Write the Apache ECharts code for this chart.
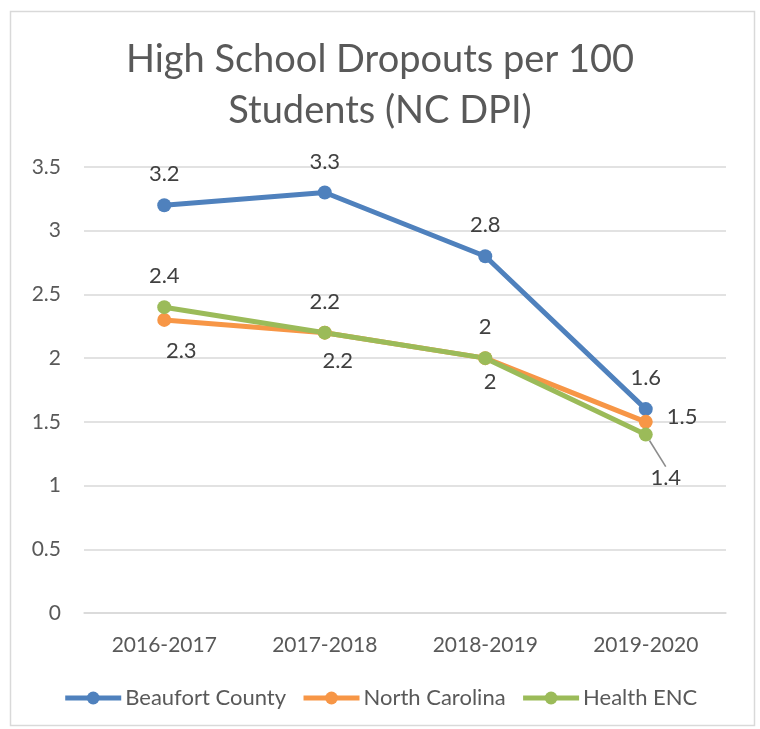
<!DOCTYPE html>
<html>
<head>
<meta charset="utf-8">
<script src="https://cdn.jsdelivr.net/npm/echarts@6/dist/echarts.min.js"></script>
<style>
  html, body { margin: 0; padding: 0; background: #fff; }
  #chart { width: 760px; height: 729px; }
</style>
</head>
<body>
<div id="chart"></div>
<script>
var chart = echarts.init(document.getElementById('chart'));

// school years on the x axis
const years = ['2016-2017', '2017-2018', '2018-2019', '2019-2020'];

// dropouts per 100 students
const beaufort = [3.2, 3.3, 2.8, 1.6];
const northCarolina = [2.3, 2.2, 2.0, 1.5];
const healthEnc = [2.4, 2.2, 2.0, 1.4];

// label placement per point (Excel put them around by hand)
const ncLabelPos = [
  { position: 'bottom', offset: [17, 0] },
  { position: 'bottom', offset: [13, -3] },
  { position: 'bottom', offset: [5, -7] },
  { position: 'right', offset: [1, -5] }
];
const encLabelPos = [
  { position: 'top', offset: [15, 12] },
  { position: 'top', offset: [14, 10] },
  { position: 'top', offset: [8, 1] },
  { position: 'bottom', offset: [0, 0] }
];

const font = 'Lato, "Open Sans", sans-serif';
const labelStyle = { fontSize: 22, color: '#404040', fontFamily: font };

function withLabels(values, pos) {
  return values.map(function (v, i) {
    return { value: v, label: pos[i] };
  });
}

function lineSeries(name, color, data, label) {
  return {
    name: name,
    type: 'line',
    data: data,
    symbol: 'circle',
    symbolSize: 14,
    lineStyle: { width: 5, color: color },
    itemStyle: { color: color },
    label: Object.assign({ show: true, distance: 13 }, labelStyle, label || {}),
    emphasis: { disabled: true },
    animation: false
  };
}

var green = lineSeries('Health ENC', '#9BBB59', withLabels(healthEnc, encLabelPos));
green.data[3].labelLine = { show: true, lineStyle: { color: '#8c8c8c', width: 1.6 } };
green.labelLine = { show: false };
green.labelLayout = function (params) {
  if (params.dataIndex === 3) {
    return { dx: 20, dy: 12 };
  }
};

var option = {
  backgroundColor: '#fff',
  graphic: [{
    type: 'rect',
    shape: { x: 10.5, y: 11.5, width: 744, height: 714 },
    style: { fill: 'none', stroke: '#d9d9d9', lineWidth: 1.5 },
    silent: true
  }],
  title: {
    text: 'High School Dropouts per 100\nStudents (NC DPI)',
    left: 'center',
    top: 29,
    textStyle: {
      fontFamily: font,
      fontSize: 38,
      fontWeight: 'normal',
      color: '#595959',
      lineHeight: 51
    }
  },
  legend: {
    bottom: 15,
    left: 'center',
    itemWidth: 56,
    itemHeight: 16,
    itemGap: 15,
    lineStyle: { width: 5 },
    textStyle: { fontFamily: font, fontSize: 22, color: '#595959', padding: [0, 0, 0, -1] },
    data: ['Beaufort County', 'North Carolina', 'Health ENC']
  },
  grid: {
    left: 84,
    right: 34,
    top: 167,
    bottom: 116,
    containLabel: false
  },
  xAxis: {
    type: 'category',
    data: years,
    boundaryGap: true,
    axisLine: { show: true, lineStyle: { color: '#d9d9d9', width: 1.5 } },
    axisTick: { show: false },
    axisLabel: { fontFamily: font, fontSize: 21, color: '#595959', margin: 22 }
  },
  yAxis: {
    type: 'value',
    min: 0,
    max: 3.5,
    interval: 0.5,
    axisLine: { show: false },
    axisTick: { show: false },
    splitLine: { lineStyle: { color: '#d9d9d9', width: 1.5 } },
    axisLabel: { fontFamily: font, fontSize: 21, color: '#595959', margin: 23 }
  },
  series: [
    lineSeries('Beaufort County', '#4F81BD', beaufort, { position: 'top' }),
    lineSeries('North Carolina', '#F79646', withLabels(northCarolina, ncLabelPos)),
    green
  ]
};

option && chart.setOption(option);
</script>
</body>
</html>
